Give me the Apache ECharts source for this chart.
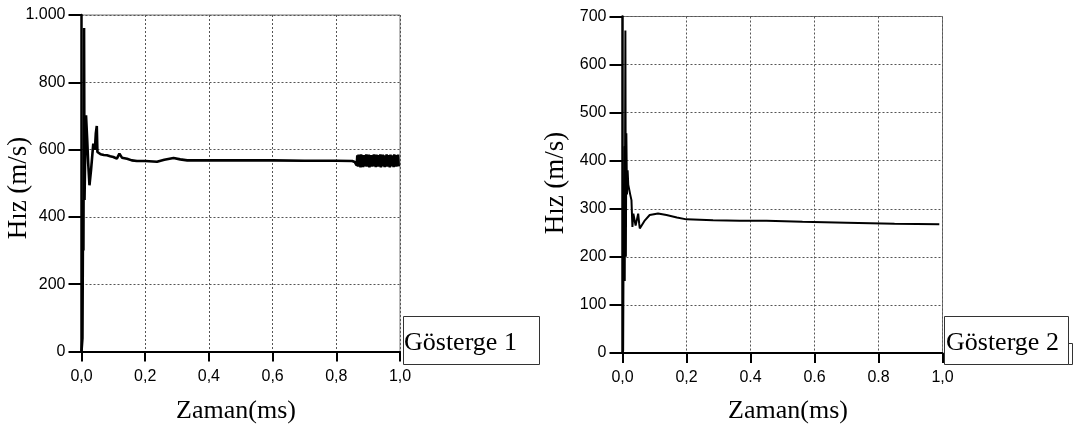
<!DOCTYPE html>
<html><head><meta charset="utf-8">
<script src="https://cdn.jsdelivr.net/npm/echarts@6/dist/echarts.min.js"></script>
<style>html,body{margin:0;padding:0;background:#fff}#c{width:1080px;height:427px}</style>
</head><body><div id="c"></div>
<script>
// Tick labels
const leftYLabels = ['0', '200', '400', '600', '800', '1.000'];
const leftXLabels = ['0,0', '0,2', '0,4', '0,6', '0,8', '1,0'];
const rightYLabels = ['0', '100', '200', '300', '400', '500', '600', '700'];
const rightXLabels = ['0,0', '0,2', '0.4', '0.6', '0.8', '1,0'];
const yTitle = 'Hız (m/s)';
const xTitle = 'Zaman(ms)';
const legendNames = ['Gösterge 1', 'Gösterge 2'];

// Gösterge 1 (left)
const leftTime = [0, 0.003, 0.005, 0.006, 0.008, 0.0095, 0.011, 0.0142, 0.018, 0.021, 0.025, 0.030, 0.037, 0.042, 0.045, 0.048, 0.050, 0.054, 0.06, 0.07, 0.08, 0.09, 0.1, 0.111, 0.119, 0.127, 0.143, 0.158, 0.174, 0.2, 0.237, 0.26, 0.289, 0.31, 0.332, 0.4, 0.5, 0.6, 0.7, 0.8, 0.85, 0.858, 0.864];
const leftSpeed = [0, 40, 450, 300, 961, 450, 550, 702, 628, 560, 494, 540, 618, 600, 649, 670, 593, 590, 586, 584, 583, 580, 578, 573, 588, 576, 573, 568, 566, 566, 564, 570, 575, 571, 568, 568, 568, 568, 567, 567, 566, 563, 553];
// noisy band at the end of Gösterge 1
const noiseTime = [0.866,0.868,0.870,0.872,0.874,0.876,0.878,0.880,0.882,0.884,0.886,0.888,0.890,0.892,0.894,0.896,0.898,0.900,0.902,0.904,0.906,0.908,0.910,0.912,0.914,0.916,0.918,0.920,0.922,0.924,0.926,0.928,0.930,0.932,0.934,0.936,0.938,0.940,0.942,0.944,0.946,0.948,0.950,0.952,0.954,0.956,0.958,0.960,0.962,0.964,0.966,0.968,0.970,0.972,0.974,0.976,0.978,0.980,0.982,0.984,0.986,0.988,0.990,0.992,0.994,0.996];
const noiseSpeed = [583,549,585,551,580,547,586,552,582,548,584,550,581,553,586,549,583,551,585,547,582,552,584,549,580,550,586,553,583,548,585,551,581,549,584,552,586,547,582,550,585,553,583,548,580,551,586,549,584,552,582,547,585,550,583,553,581,548,586,551,584,549,582,552,585,550];

// Gösterge 2 (right)
const rightTime = [0, 0.002, 0.004, 0.006, 0.007, 0.009, 0.0105, 0.012, 0.014, 0.016, 0.018, 0.021, 0.024, 0.028, 0.031, 0.034, 0.038, 0.041, 0.044, 0.049, 0.052, 0.054, 0.06, 0.07, 0.085, 0.111, 0.1375, 0.17, 0.2, 0.283, 0.367, 0.45, 0.5625, 0.7, 0.85, 0.99];
const rightSpeed = [0, 5, 300, 430, 150, 671, 200, 457, 330, 380, 350, 353, 330, 318, 262, 290, 287, 265, 269, 290, 270, 259, 262, 276, 287, 290, 287, 282, 278, 276, 275, 275, 273, 271, 269, 268];

const leftData = leftTime.map((t, i) => [t, leftSpeed[i]]).concat(noiseTime.map((t, i) => [t, noiseSpeed[i]]));
const rightData = rightTime.map((t, i) => [t, rightSpeed[i]]);

const tickFont = { fontFamily: 'Liberation Sans', fontSize: 16, color: '#000' };
const dotted = { color: '#555', width: 1, type: [2, 2] };

function xAxis(idx, labels) {
  return {
    type: 'value', gridIndex: idx, min: 0, max: 1, interval: 0.2,
    axisLine: { show: true, onZero: false, lineStyle: { color: '#000', width: 2 } },
    axisTick: { show: true, inside: false, length: 10, lineStyle: { color: '#000', width: 2 } },
    axisLabel: Object.assign({ margin: 17, formatter: v => labels[Math.round(v / 0.2)] }, tickFont),
    splitLine: { show: true, lineStyle: dotted }
  };
}
function yAxis(idx, labels, step, max) {
  return {
    type: 'value', gridIndex: idx, min: 0, max: max, interval: step,
    axisLine: { show: true, onZero: false, lineStyle: { color: '#000', width: 2.5 } },
    axisTick: { show: true, inside: false, length: 13, lineStyle: { color: '#000', width: 2 } },
    axisLabel: Object.assign({ margin: 16, formatter: v => labels[Math.round(v / step)] }, tickFont),
    splitLine: { show: true, lineStyle: dotted }
  };
}

const chart = echarts.init(document.getElementById('c'), null, { renderer: 'canvas' });
chart.setOption({
  animation: false,
  backgroundColor: '#fff',
  grid: [
    { left: 81.5, top: 15, width: 318.5, height: 336.5, show: true, borderColor: '#777', borderWidth: 1, backgroundColor: 'transparent' },
    { left: 622.5, top: 16.5, width: 320, height: 336.5, show: true, borderColor: '#777', borderWidth: 1, backgroundColor: 'transparent' }
  ],
  xAxis: [xAxis(0, leftXLabels), xAxis(1, rightXLabels)],
  yAxis: [yAxis(0, leftYLabels, 200, 1000), yAxis(1, rightYLabels, 100, 700)],
  series: [
    { type: 'line', xAxisIndex: 0, yAxisIndex: 0, data: leftData, showSymbol: false, symbol: 'none',
      lineStyle: { color: '#000', width: 2.6 }, z: 5 },
    { type: 'line', xAxisIndex: 1, yAxisIndex: 1, data: rightData, showSymbol: false, symbol: 'none',
      lineStyle: { color: '#000', width: 2 }, z: 5 }
  ],
  graphic: [
    { type: 'text', x: 19, y: 188, rotation: Math.PI / 2,
      style: { text: yTitle, fontFamily: 'Liberation Serif', fontSize: 27, fill: '#000', align: 'center', verticalAlign: 'middle' } },
    { type: 'text', x: 556, y: 183, rotation: Math.PI / 2,
      style: { text: yTitle, fontFamily: 'Liberation Serif', fontSize: 27, fill: '#000', align: 'center', verticalAlign: 'middle' } },
    { type: 'text', x: 236, y: 411,
      style: { text: xTitle, fontFamily: 'Liberation Serif', fontSize: 26, fill: '#000', align: 'center', verticalAlign: 'middle' } },
    { type: 'text', x: 788, y: 411,
      style: { text: xTitle, fontFamily: 'Liberation Serif', fontSize: 26, fill: '#000', align: 'center', verticalAlign: 'middle' } },
    { type: 'rect', shape: { x: 403.5, y: 316.5, width: 136, height: 48 }, style: { fill: '#fff', stroke: '#333', lineWidth: 1 }, z: 10 },
    { type: 'text', x: 404, y: 343, z: 11,
      style: { text: legendNames[0], fontFamily: 'Liberation Serif', fontSize: 26, fill: '#000', align: 'left', verticalAlign: 'middle' } },
    { type: 'rect', shape: { x: 1068.5, y: 343.5, width: 4, height: 21 }, style: { fill: '#fff', stroke: '#333', lineWidth: 1 }, z: 9 },
    { type: 'rect', shape: { x: 944.5, y: 316.5, width: 124, height: 48 }, style: { fill: '#fff', stroke: '#333', lineWidth: 1 }, z: 10 },
    { type: 'text', x: 946, y: 343, z: 11,
      style: { text: legendNames[1], fontFamily: 'Liberation Serif', fontSize: 26, fill: '#000', align: 'left', verticalAlign: 'middle' } }
  ]
});
</script>
</body></html>
